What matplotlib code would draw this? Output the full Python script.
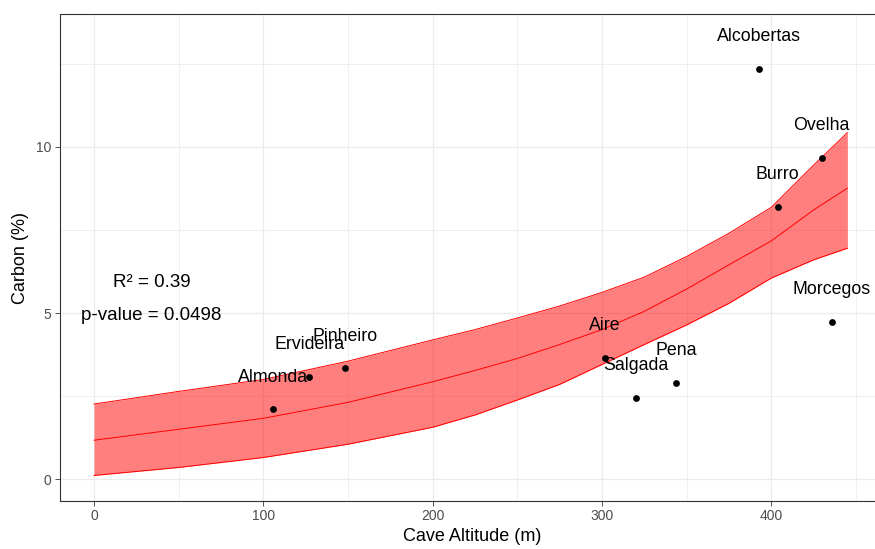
import matplotlib
matplotlib.use("Agg")
import matplotlib.pyplot as plt

plt.rcParams["font.family"] = ["Liberation Sans", "DejaVu Sans"]

# cave samples
caves = ["Almonda", "Ervideira", "Pinheiro", "Aire", "Salgada", "Pena",
         "Morcegos", "Burro", "Ovelha", "Alcobertas"]
altitude = [105.5, 127.2, 148.5, 301.8, 320.1, 343.8, 435.7, 403.8, 429.8, 392.8]
carbon = [2.10, 3.07, 3.33, 3.64, 2.44, 2.89, 4.74, 8.20, 9.66, 12.35]

# fitted curve and confidence band
fit_x = [0, 50, 100, 150, 200, 225, 250, 275, 300, 325, 350, 375, 400, 425, 445]
fit_y = [1.17, 1.50, 1.83, 2.31, 2.93, 3.27, 3.63, 4.05, 4.50, 5.05, 5.72, 6.45, 7.17, 8.10, 8.76]
fit_hi = [2.26, 2.64, 3.00, 3.55, 4.19, 4.50, 4.85, 5.21, 5.62, 6.08, 6.70, 7.40, 8.18, 9.45, 10.43]
fit_lo = [0.11, 0.35, 0.65, 1.05, 1.56, 1.93, 2.38, 2.85, 3.45, 4.05, 4.64, 5.29, 6.05, 6.60, 6.95]

stats_text = ["R\u00b2 = 0.39", "p-value = 0.0498"]

fig = plt.figure(figsize=(8.75, 5.49), dpi=100)
ax = fig.add_axes([0.068, 0.0874, 0.9434, 0.887])

ax.fill_between(fit_x, fit_lo, fit_hi, color="#FF0000", alpha=0.5, linewidth=0, zorder=2)
ax.plot(fit_x, fit_hi, color="red", lw=0.7, zorder=3)
ax.plot(fit_x, fit_lo, color="red", lw=0.7, zorder=3)
ax.plot(fit_x, fit_y, color="red", lw=0.7, zorder=3)

ax.scatter(altitude, carbon, s=24, color="black", zorder=4, linewidths=0)
for name, x, y in zip(caves, altitude, carbon):
    ax.text(x, y + 0.97, name, ha="center", va="center", fontsize=12.8,
            color="black", zorder=5)

ax.text(34, 5.93, stats_text[0], ha="center", va="center", fontsize=13.5)
ax.text(34, 4.94, stats_text[1], ha="center", va="center", fontsize=13.5)

ax.set_xlim(-20.4, 467.2)
ax.set_ylim(-0.66, 14.0)
ax.set_xticks([0, 100, 200, 300, 400])
ax.set_yticks([0, 5, 10])
ax.set_xticks([50, 150, 250, 350, 450], minor=True)
ax.set_yticks([2.5, 7.5, 12.5], minor=True)
ax.grid(which="major", color="#EBEBEB", lw=0.9, zorder=0)
ax.grid(which="minor", color="#EBEBEB", lw=0.55, zorder=0)
ax.set_axisbelow(True)
ax.tick_params(which="major", length=3.5, width=0.6, color="#333333",
               labelsize=10, labelcolor="#4D4D4D", pad=2.5)
ax.tick_params(which="minor", length=0)
for sp in ax.spines.values():
    sp.set_color("#333333")
    sp.set_linewidth(0.8)

ax.set_xlabel("Cave Altitude (m)", fontsize=13, labelpad=3)
ax.set_ylabel("Carbon (%)", fontsize=13, labelpad=5)

fig.savefig("out.png", dpi=100)
plt.close(fig)
